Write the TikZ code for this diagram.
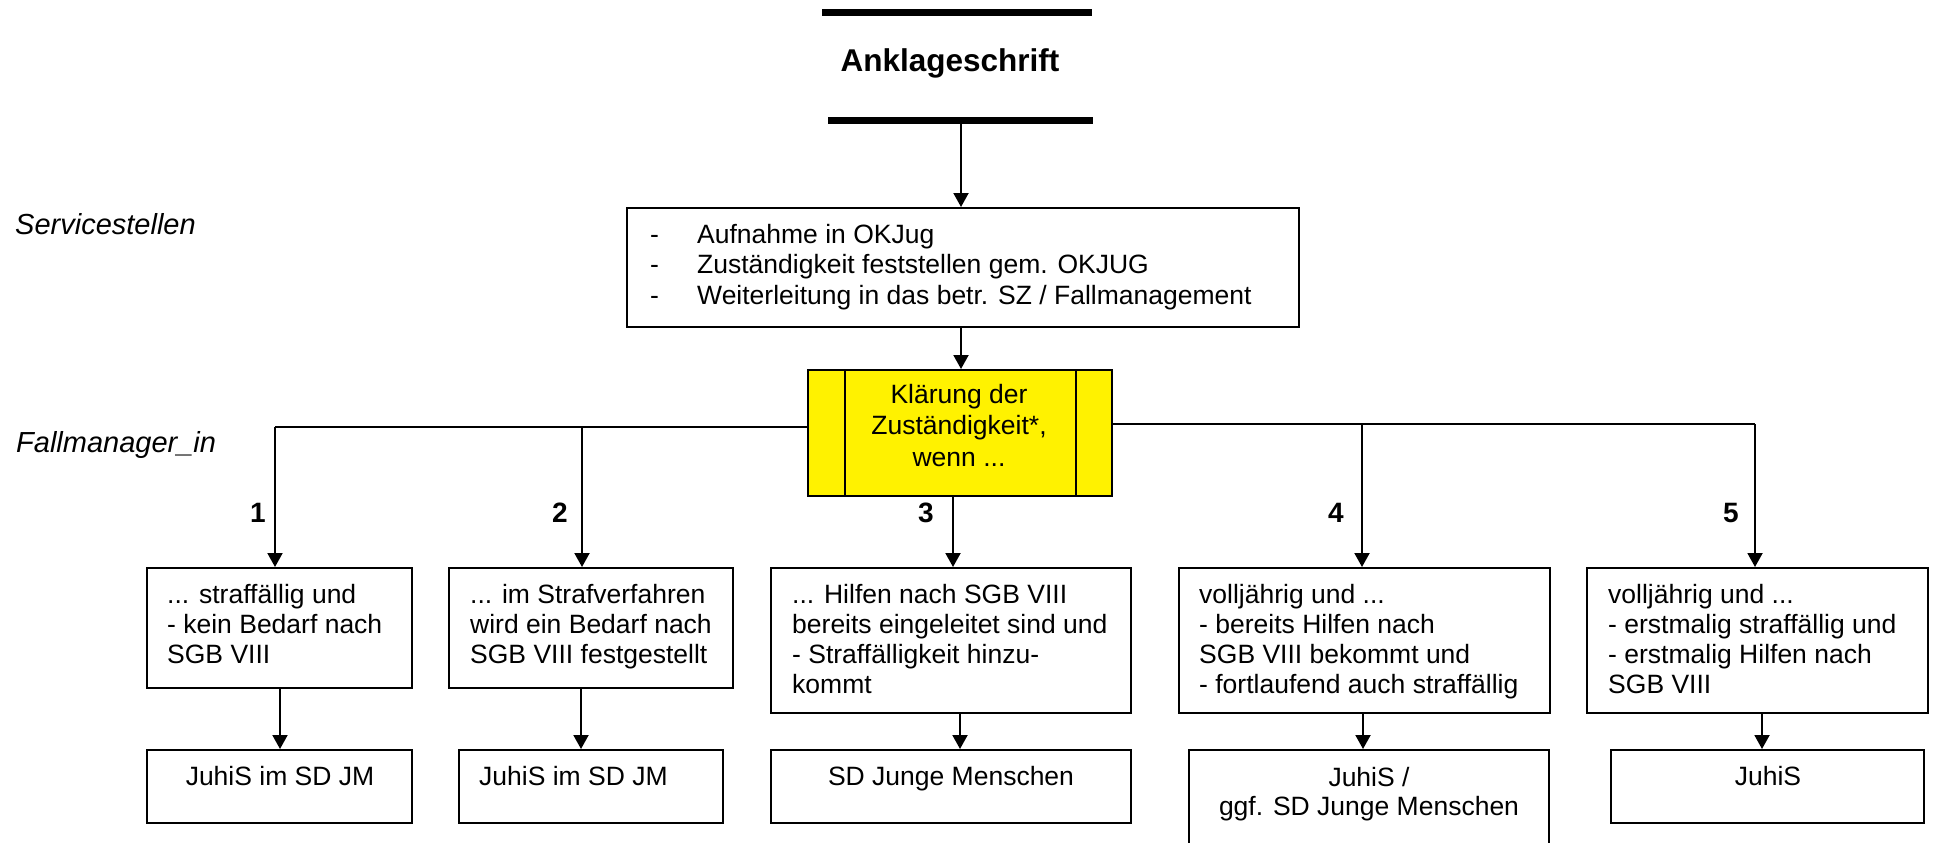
\documentclass[tikz,border=0pt]{standalone}
\usepackage{fontspec}
\setmainfont{Liberation Sans}
\usetikzlibrary{arrows.meta,fit}
\newcommand\fnorm{\fontsize{26.5}{30}\selectfont}
\newcommand\fserv{\fontsize{26.5}{30.5}\selectfont}
\newcommand\fyel{\fontsize{26.5}{31.5}\selectfont}
\newcommand\fqfour{\fontsize{26.5}{29}\selectfont}
\newcommand\fside{\fontsize{29}{32}\selectfont}
\newcommand\ftitle{\fontsize{31.5}{34}\selectfont}
\newcommand\fnum{\fontsize{28}{30}\selectfont}
\newcommand\dashitem{\makebox[47pt][l]{-}}
\tikzset{
  box/.style={draw, line width=2pt, inner sep=0pt, rectangle},
  ln/.style={line width=2pt},
  bar/.style={line width=7pt},
  arr/.style={line width=2pt, -{Triangle[width=15pt,length=14pt]}},
  txt/.style={inner sep=0pt, font=\fnorm},
  num/.style={inner sep=0pt, font=\fnum\bfseries},
  side/.style={inner sep=0pt, anchor=base west, font=\fside\itshape},
}
\begin{document}
\begin{tikzpicture}[x=1pt,y=-1pt]
\useasboundingbox (0,0) rectangle (1933,843);
\clip (0,0) rectangle (1933,843);

% title
\draw[bar] (822,13) -- (1092,13);
\node[inner sep=0pt, anchor=base, font=\ftitle\bfseries] (T) at (950,71) {Anklageschrift};
\draw[bar] (828,120) -- (1093,120);
\coordinate (B) at (961,120);

% side labels
\node[side] (L1) at (15,234) {Servicestellen};
\node[side] (L2) at (16,452) {Fallmanager\_in};

% Servicestellen box
\node[box, fit={(627,208)(1299,327)}] (S) {};
\node[inner sep=0pt, anchor=base west] (St) at (650,243) {\parbox[t]{640pt}{\raggedright\fserv
  \dashitem Aufnahme in OKJug\\
  \dashitem Zuständigkeit feststellen gem. OKJUG\\
  \dashitem Weiterleitung in das betr. SZ / Fallmanagement}};
\draw[arr] (B) -- (B |- S.north);

% yellow box
\node[box, fill=yellow, fit={(808,370)(1112,496)}] (Y) {};
\draw[ln] ([xshift=38pt]Y.north west) -- ([xshift=38pt]Y.south west);
\draw[ln] ([xshift=-37pt]Y.north east) -- ([xshift=-37pt]Y.south east);
\node[inner sep=0pt, anchor=base] (Yt) at (959,403) {\parbox[t]{220pt}{\centering\fyel
  Klärung der\\Zuständigkeit*,\\wenn ...}};
\draw[arr] (S.south -| B) -- (Y.north -| B);

% branch line
\coordinate (h1) at (275,427);
\coordinate (h2) at (582,427);
\coordinate (h3) at (953,427);
\coordinate (h4) at (1362,424);
\coordinate (h5) at (1755,424);
\draw[ln] (h1) -- (h1 -| Y.west);
\draw[ln] (h4 -| Y.east) -- (h5);

% row 1 boxes
\node[box, fit={(147,568)(412,688)}] (r1) {};
\node[box, fit={(449,568)(733,688)}] (r2) {};
\node[box, fit={(771,568)(1131,713)}] (r3) {};
\node[box, fit={(1179,568)(1550,713)}] (r4) {};
\node[box, fit={(1587,568)(1928,713)}] (r5) {};

\draw[arr] (h1) -- (h1 |- r1.north);
\draw[arr] (h2) -- (h2 |- r2.north);
\draw[arr] (Y.south -| h3) -- (r3.north -| h3);
\draw[arr] (h4) -- (h4 |- r4.north);
\draw[arr] (h5) -- (h5 |- r5.north);

\node[num] (n1) at (258,513) {1};
\node[num] (n2) at (560,513) {2};
\node[num] (n3) at (926,513) {3};
\node[num] (n4) at (1336,513) {4};
\node[num] (n5) at (1731,513) {5};

\node[txt, anchor=base west] (t1) at (167,603) {\parbox[t]{300pt}{\raggedright\fnorm
  ... straffällig und\\- kein Bedarf nach\\SGB VIII}};
\node[txt, anchor=base west] (t2) at (470,603) {\parbox[t]{300pt}{\raggedright\fnorm
  ... im Strafverfahren\\wird ein Bedarf nach\\SGB VIII festgestellt}};
\node[txt, anchor=base west] (t3) at (792,603) {\parbox[t]{400pt}{\raggedright\fnorm
  ... Hilfen nach SGB VIII\\bereits eingeleitet sind und\\- Straffälligkeit hinzu-\\kommt}};
\node[txt, anchor=base west] (t4) at (1199,603) {\parbox[t]{400pt}{\raggedright\fnorm
  volljährig und ...\\- bereits Hilfen nach\\SGB VIII bekommt und\\- fortlaufend auch straffällig}};
\node[txt, anchor=base west] (t5) at (1608,603) {\parbox[t]{400pt}{\raggedright\fnorm
  volljährig und ...\\- erstmalig straffällig und\\- erstmalig Hilfen nach\\SGB VIII}};

% row 2 boxes
\node[box, fit={(147,750)(412,823)}] (q1) {};
\node[box, fit={(459,750)(723,823)}] (q2) {};
\node[box, fit={(771,750)(1131,823)}] (q3) {};
\node[box, fit={(1189,750)(1549,870)}] (q4) {};
\node[box, fit={(1611,750)(1924,823)}] (q5) {};

\coordinate (v1) at (280,0);
\coordinate (v2) at (581,0);
\coordinate (v3) at (960,0);
\coordinate (v4) at (1363,0);
\coordinate (v5) at (1762,0);
\draw[arr] (r1.south -| v1) -- (q1.north -| v1);
\draw[arr] (r2.south -| v2) -- (q2.north -| v2);
\draw[arr] (r3.south -| v3) -- (q3.north -| v3);
\draw[arr] (r4.south -| v4) -- (q4.north -| v4);
\draw[arr] (r5.south -| v5) -- (q5.north -| v5);

\node[txt, anchor=base] (u1) at (280,785) {JuhiS im SD JM};
\node[txt, anchor=base west] (u2) at (479,785) {JuhiS im SD JM};
\node[txt, anchor=base] (u3) at (951,785) {SD Junge Menschen};
\node[inner sep=0pt, anchor=base] (u4) at (1369,786) {\parbox[t]{360pt}{\centering\fqfour
  JuhiS /\\ggf. SD Junge Menschen}};
\node[txt, anchor=base] (u5) at (1768,785) {JuhiS};
\end{tikzpicture}
\end{document}
